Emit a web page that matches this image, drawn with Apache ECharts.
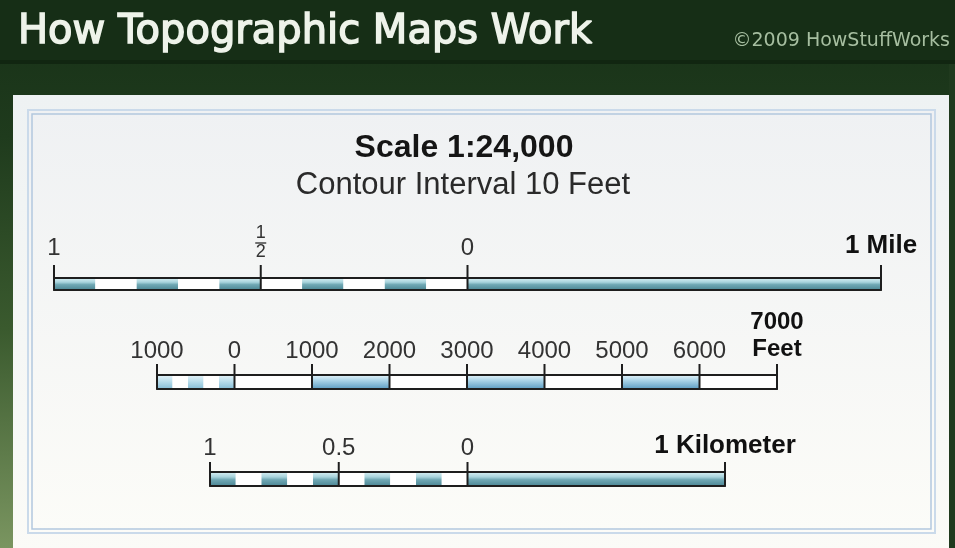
<!DOCTYPE html>
<html><head><meta charset="utf-8">
<script src="https://cdn.jsdelivr.net/npm/echarts@6/dist/echarts.min.js"></script>
<style>html,body{margin:0;padding:0;background:#1b341b}#c{width:955px;height:548px}</style>
</head><body><div id="c"></div><script>
// ---- texts ----
const titleText = 'How Topographic Maps Work';
const creditText = '\u00A92009 HowStuffWorks';
const scaleText = 'Scale 1:24,000';
const contourText = 'Contour Interval 10 Feet';

// ---- mile bar ----
const mileTicks = [-1, -0.5, 0, 1];
const mileLabels = ['1', '1/2', '0', '1 Mile'];
// [start, end, fill] fill: 1 = blue, 0 = white
const mileSegments = [
  [-1.0, -0.9, 1], [-0.9, -0.8, 0], [-0.8, -0.7, 1], [-0.7, -0.6, 0], [-0.6, -0.5, 1],
  [-0.5, -0.4, 0], [-0.4, -0.3, 1], [-0.3, -0.2, 0], [-0.2, -0.1, 1], [-0.1, 0, 0],
  [0, 1, 1]
];

// ---- feet bar ----
const feetTicks = [-1000, 0, 1000, 2000, 3000, 4000, 5000, 6000, 7000];
const feetLabels = ['1000', '0', '1000', '2000', '3000', '4000', '5000', '6000', '7000\nFeet'];
// fill: 1 = blue, 2 = pale blue, 0 = white
const feetSegments = [
  [-1000, -800, 2], [-800, -600, 0], [-600, -400, 2], [-400, -200, 0], [-200, 0, 2],
  [0, 1000, 0], [1000, 2000, 1], [2000, 3000, 0], [3000, 4000, 1],
  [4000, 5000, 0], [5000, 6000, 1], [6000, 7000, 0]
];

// ---- kilometer bar ----
const kmTicks = [-1, -0.5, 0, 1];
const kmLabels = ['1', '0.5', '0', '1 Kilometer'];
const kmSegments = [
  [-1.0, -0.9, 1], [-0.9, -0.8, 0], [-0.8, -0.7, 1], [-0.7, -0.6, 0], [-0.6, -0.5, 1],
  [-0.5, -0.4, 0], [-0.4, -0.3, 1], [-0.3, -0.2, 0], [-0.2, -0.1, 1], [-0.1, 0, 0],
  [0, 1, 1]
];

const G = echarts.graphic;
const tealBlue = () => new G.LinearGradient(0, 0, 0, 1, [
  {offset: 0, color: '#d9f0f4'}, {offset: 0.35, color: '#a8d3dc'},
  {offset: 0.55, color: '#70a8b4'}, {offset: 1, color: '#4c8694'}]);
const skyBlue = () => new G.LinearGradient(0, 0, 0, 1, [
  {offset: 0, color: '#e4f3f9'}, {offset: 0.4, color: '#a9d3e7'}, {offset: 1, color: '#5d9dc3'}]);
const paleBlue = () => new G.LinearGradient(0, 0, 0, 1, [
  {offset: 0, color: '#e6f4f9'}, {offset: 0.5, color: '#b5dbea'}, {offset: 1, color: '#86bdd6'}]);

const INK = '#1e1e1e';
const labelFont = 'Liberation Sans, Arial, sans-serif';

function makeFormatter(ticks, labels) {
  return function (v) {
    let i = ticks.findIndex(t => Math.abs(t - v) < 1e-9);
    if (i < 0) return '';
    const txt = labels[i];
    if (i === ticks.length - 1) return txt.split('\n').map(s => '{u|' + s + '}').join('\n');
    if (txt.indexOf('/') > 0) {
      const p = txt.split('/');
      return '{f|' + p[0] + '}\n{b| }\n{f|' + p[1] + '}';
    }
    return txt;
  };
}

function xAxisFor(idx, ticks, labels, margin, unitSize) {
  return {
    gridIndex: idx, type: 'value', position: 'top',
    min: ticks[0], max: ticks[ticks.length - 1],
    axisLine: {show: false}, axisTick: {show: false}, splitLine: {show: false},
    axisLabel: {
      customValues: ticks, formatter: makeFormatter(ticks, labels),
      margin: margin, fontSize: 24, color: '#333', fontFamily: labelFont,
      rich: {
        u: {fontSize: unitSize, fontWeight: 'bold', color: '#111', fontFamily: labelFont, lineHeight: unitSize + 3},
        f: {fontSize: 18, color: '#333', fontFamily: labelFont, lineHeight: 15, align: 'center'},
        b: {width: 11, height: 1.5, lineHeight: 4, backgroundColor: '#444', fontSize: 2, align: 'center'}
      }
    }
  };
}

function segSeries(idx, segs, colors) {
  return {
    type: 'custom', xAxisIndex: idx, yAxisIndex: idx, z: 2, silent: true,
    data: segs,
    renderItem: function (params, api) {
      const p0 = api.coord([api.value(0), 1]);
      const p1 = api.coord([api.value(1), 0]);
      return {type: 'rect', shape: {x: p0[0], y: p0[1], width: p1[0] - p0[0], height: p1[1] - p0[1]},
        style: {fill: colors[api.value(2)]()}};
    }
  };
}
function frameSeries(idx, ticks) {
  return {
    type: 'custom', xAxisIndex: idx, yAxisIndex: idx, z: 3, silent: true,
    data: [[ticks[0], ticks[ticks.length - 1]]],
    renderItem: function (params, api) {
      const p0 = api.coord([api.value(0), 1]);
      const p1 = api.coord([api.value(1), 0]);
      return {type: 'rect', shape: {x: p0[0], y: p0[1], width: p1[0] - p0[0], height: p1[1] - p0[1]},
        style: {fill: 'none', stroke: INK, lineWidth: 1.8}};
    }
  };
}
function tickSeries(idx, ticks, len) {
  return {
    type: 'custom', xAxisIndex: idx, yAxisIndex: idx, z: 4, silent: true,
    data: ticks.map(t => [t]),
    renderItem: function (params, api) {
      const top = api.coord([api.value(0), 1]);
      const bot = api.coord([api.value(0), 0]);
      return {type: 'line', shape: {x1: top[0], y1: top[1] - len, x2: bot[0], y2: bot[1]},
        style: {stroke: INK, lineWidth: 2}};
    }
  };
}

const white = () => '#ffffff';
const mileColors = [white, tealBlue];
const feetColors = [white, skyBlue, paleBlue];
const kmColors = [white, tealBlue];

const option = {
  animation: false,
  backgroundColor: '#1b341b',
  graphic: [
    {type: 'rect', z: -10, shape: {x: 0, y: 0, width: 955, height: 548},
      style: {fill: new G.LinearGradient(0, 0, 0, 1, [
        {offset: 0, color: '#173017'}, {offset: 0.25, color: '#1f3b1d'}, {offset: 0.6, color: '#3a5a2e'}, {offset: 1, color: '#7a9560'}])}},
    {type: 'rect', z: -9, shape: {x: 0, y: 0, width: 955, height: 62}, style: {fill: '#162e16'}},
    {type: 'rect', z: -9, shape: {x: 0, y: 60, width: 955, height: 4}, style: {fill: '#112611'}},
    {type: 'rect', z: -9, shape: {x: 949, y: 64, width: 6, height: 484}, style: {fill: '#203a1e'}},
    {type: 'rect', z: -8, shape: {x: 13, y: 95, width: 936, height: 460},
      style: {fill: new G.LinearGradient(0, 0, 0, 1, [
        {offset: 0, color: '#eef2f3'}, {offset: 1, color: '#fbfbf7'}])}},
    {type: 'rect', z: -7, shape: {x: 28, y: 110, width: 907, height: 423},
      style: {fill: new G.LinearGradient(0, 0, 0, 1, [
        {offset: 0, color: '#eff1f3'}, {offset: 1, color: '#fcfcf8'}]), stroke: '#cadaea', lineWidth: 2}},
    {type: 'rect', z: -6, shape: {x: 32, y: 114, width: 899, height: 415},
      style: {fill: 'none', stroke: '#b3c7de', lineWidth: 1.5}},
    {type: 'text', z: 5, x: 18, y: 33, style: {text: titleText, font: '40px "DejaVu Sans"',
      fill: '#eef3ea', stroke: '#eef3ea', lineWidth: 1.5, verticalAlign: 'middle', align: 'left'}},
    {type: 'text', z: 5, x: 950, y: 41, style: {text: creditText, font: '19px "DejaVu Sans"',
      fill: '#a6bea0', verticalAlign: 'middle', align: 'right'}},
    {type: 'text', z: 5, x: 464, y: 148, style: {text: scaleText, font: 'bold 32px "Liberation Sans"',
      fill: '#151515', verticalAlign: 'middle', align: 'center'}},
    {type: 'text', z: 5, x: 463, y: 185, style: {text: contourText, font: '31px "Liberation Sans"',
      fill: '#2a2a2a', verticalAlign: 'middle', align: 'center'}}
  ],
  grid: [
    {left: 54, top: 278, width: 827, height: 12},
    {left: 157, top: 375, width: 620, height: 14},
    {left: 210, top: 472, width: 515, height: 14}
  ],
  xAxis: [
    xAxisFor(0, mileTicks, mileLabels, 18, 26),
    xAxisFor(1, feetTicks, feetLabels, 12, 24),
    xAxisFor(2, kmTicks, kmLabels, 12, 26)
  ],
  yAxis: [0, 1, 2].map(i => ({gridIndex: i, type: 'value', min: 0, max: 1, show: false})),
  series: [
    segSeries(0, mileSegments, mileColors), frameSeries(0, mileTicks), tickSeries(0, mileTicks, 13),
    segSeries(1, feetSegments, feetColors), frameSeries(1, feetTicks), tickSeries(1, feetTicks, 11),
    segSeries(2, kmSegments, kmColors), frameSeries(2, kmTicks), tickSeries(2, kmTicks, 10)
  ]
};
const chart = echarts.init(document.getElementById('c'), null, {renderer: 'canvas'});
chart.setOption(option);
</script></body></html>
